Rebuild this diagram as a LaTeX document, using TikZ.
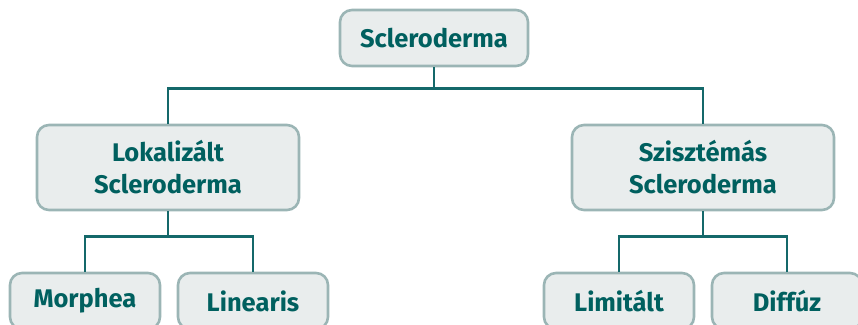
\documentclass[tikz,border=0pt]{standalone}
\usepackage{fontspec}
\setmainfont{Fira Sans}
\definecolor{sctext}{HTML}{00605F}
\definecolor{scfill}{HTML}{E9EDED}
\definecolor{scborder}{HTML}{9BB5B5}
\definecolor{scline}{HTML}{14686A}
\begin{document}
\begin{tikzpicture}[
  x=1pt, y=-1pt,
  box/.style={draw=scborder, fill=scfill, line width=2.6pt, rounded corners=12pt,
    text=sctext, font=\fontsize{25.5}{32}\selectfont\bfseries, align=center,
    inner sep=0pt},
  smallbox/.style={box, minimum width=150pt, minimum height=56pt},
  bigbox/.style={box, minimum width=262pt, minimum height=85pt},
  link/.style={draw=scline, line width=2.6pt},
]
%frame
\useasboundingbox (0,0) rectangle (858,324);
\clip (0,0) rectangle (858,324);

%nodes
\node[box, minimum width=188pt, minimum height=56pt] (sclero) at (434,38) {Scleroderma};
\node[bigbox] (lokal) at (168,167.5) {Lokalizált\\Scleroderma};
\node[bigbox] (sziszt) at (703,167.5) {Szisztémás\\Scleroderma};
\node[smallbox] (morph) at (85,301) {Morphea};
\node[smallbox] (lin) at (253,301) {Linearis};
\node[smallbox] (limit) at (619,301) {Limitált};
\node[smallbox] (diff) at (787,301) {Diffúz};

%connectors
\draw[link] (sclero.south) -- ++(0,21) -| (lokal.north);
\draw[link] (sclero.south) -- ++(0,21) -| (sziszt.north);
\draw[link] (lokal.south) -- ++(0,25) -| (morph.north);
\draw[link] (lokal.south) -- ++(0,25) -| (lin.north);
\draw[link] (sziszt.south) -- ++(0,25) -| (limit.north);
\draw[link] (sziszt.south) -- ++(0,25) -| (diff.north);

\end{tikzpicture}
\end{document}
